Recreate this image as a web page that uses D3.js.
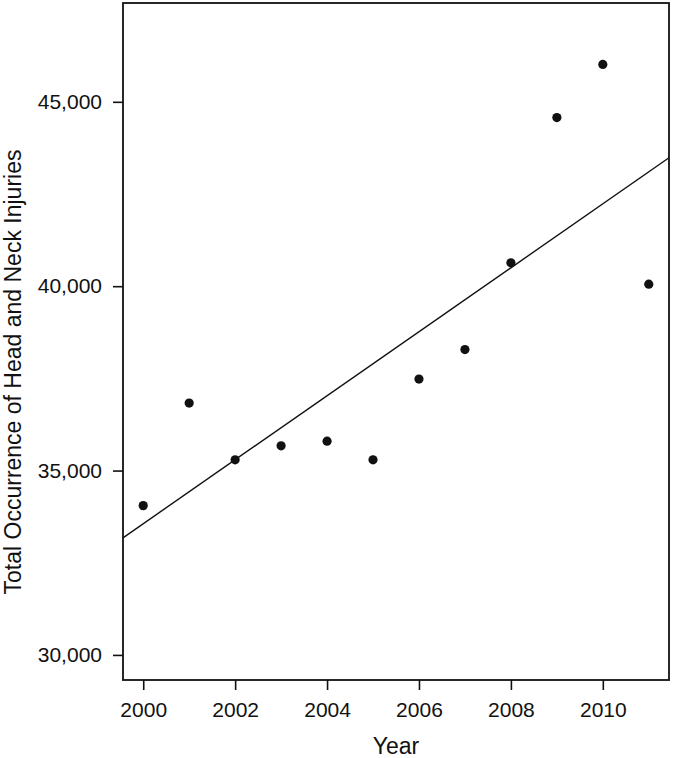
<!DOCTYPE html>
<html>
<head>
<meta charset="utf-8">
<script src="https://cdn.jsdelivr.net/npm/d3@7"></script>
<style>
  body { margin: 0; background: #fff; }
  text { font-family: "Liberation Sans", Arial, sans-serif; fill: #111; }
</style>
</head>
<body>
<svg width="674" height="758"></svg>
<script>
// data
var years = [2000, 2001, 2002, 2003, 2004, 2005, 2006, 2007, 2008, 2009, 2010, 2011];
var injuries = [34049, 36829, 35290, 35671, 35797, 35290, 37482, 38280, 40633, 44573, 46013, 40054];
var xTicks = [2000, 2002, 2004, 2006, 2008, 2010];
var yTicks = [30000, 35000, 40000, 45000];

var svg = d3.select('svg');
var svgWidth = +svg.attr('width');
var svgHeight = +svg.attr('height');

var padding = {t: 3, r: 5, b: 78, l: 123};
var chartWidth = svgWidth - padding.l - padding.r;
var chartHeight = svgHeight - padding.t - padding.b;

var chartG = svg.append('g')
    .attr('transform', 'translate(' + [padding.l, padding.t] + ')');

// R style 4% extension
var xScale = d3.scaleLinear()
    .domain([2000 - 11 * 0.04, 2011 + 11 * 0.04])
    .range([0, chartWidth]);

var yScale = d3.scaleLinear()
    .domain([30000 - 17000 * 0.04, 47000 + 17000 * 0.04])
    .range([chartHeight, 0]);

var fmt = d3.format(',');

var xAxis = d3.axisBottom(xScale)
    .tickValues(xTicks)
    .tickFormat(d3.format('d'))
    .tickSize(10)
    .tickPadding(12);

var yAxis = d3.axisLeft(yScale)
    .tickValues(yTicks)
    .tickFormat(fmt)
    .tickSize(10)
    .tickPadding(11);

var gx = chartG.append('g')
    .attr('transform', 'translate(0,' + chartHeight + ')')
    .call(xAxis);

var gy = chartG.append('g')
    .call(yAxis);

[gx, gy].forEach(function(g) {
    g.select('.domain').remove();
    g.selectAll('line').attr('stroke', '#111').attr('stroke-width', 1.6);
    g.selectAll('text')
        .style('font-size', '21px')
        .style('font-family', '"Liberation Sans", Arial, sans-serif')
        .attr('fill', '#111');
});

// box
chartG.append('rect')
    .attr('x', 0)
    .attr('y', 0)
    .attr('width', chartWidth)
    .attr('height', chartHeight)
    .attr('fill', 'none')
    .attr('stroke', '#111')
    .attr('stroke-width', 1.8);

// least squares fit line
var xm = d3.mean(years);
var ym = d3.mean(injuries);
var sxy = d3.sum(years, function(d, i) { return (d - xm) * (injuries[i] - ym); });
var sxx = d3.sum(years, function(d) { return (d - xm) * (d - xm); });
var slope = sxy / sxx;
var intercept = ym - slope * xm;
var xd = xScale.domain();

chartG.append('line')
    .attr('x1', xScale(xd[0]))
    .attr('y1', yScale(intercept + slope * xd[0]))
    .attr('x2', xScale(xd[1]))
    .attr('y2', yScale(intercept + slope * xd[1]))
    .attr('stroke', '#111')
    .attr('stroke-width', 1.4);

// points
chartG.selectAll('.dot')
    .data(years)
    .enter()
    .append('circle')
    .attr('class', 'dot')
    .attr('cx', function(d) { return xScale(d); })
    .attr('cy', function(d, i) { return yScale(injuries[i]); })
    .attr('r', 4.6)
    .attr('fill', '#111');

// axis titles
svg.append('text')
    .attr('x', padding.l + chartWidth / 2)
    .attr('y', 754)
    .attr('text-anchor', 'middle')
    .style('font-size', '23px')
    .text('Year');

svg.append('text')
    .attr('transform', 'translate(21,372) rotate(-90)')
    .attr('text-anchor', 'middle')
    .style('font-size', '23px')
    .text('Total Occurrence of Head and Neck Injuries');
</script>
</body>
</html>
